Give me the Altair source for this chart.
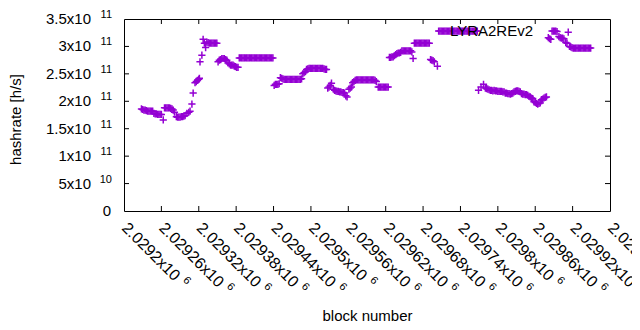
import altair as alt
import pandas as pd

# ---- data: block number and hashrate (in 1e9 h/s) ----
blocks = [
    2029228, 2029230, 2029232, 2029234, 2029236, 2029238, 2029240, 2029242, 2029244, 2029246,
    2029248, 2029250, 2029252, 2029254, 2029256, 2029258, 2029260,
    2029263,
    2029265, 2029267, 2029269, 2029271, 2029273, 2029275, 2029277,
    2029279, 2029281,
    2029284, 2029286, 2029288, 2029290, 2029292, 2029294, 2029296, 2029298,
    2029301, 2029304, 2029306,
    2029309, 2029311,
    2029314, 2029316, 2029318, 2029320, 2029321,
    2029322, 2029325, 2029327, 2029329, 2029331,
    2029333, 2029335, 2029337, 2029339, 2029341, 2029343, 2029345, 2029347, 2029349,
    2029351, 2029353, 2029355, 2029357, 2029359, 2029361, 2029363, 2029365,
    2029367, 2029369, 2029371, 2029373, 2029375, 2029377, 2029379, 2029381, 2029383,
    2029385, 2029387, 2029389, 2029391, 2029393, 2029395, 2029397, 2029399, 2029401, 2029403,
    2029405, 2029407, 2029409, 2029411, 2029413, 2029415, 2029417, 2029419, 2029421, 2029423,
    2029425, 2029427, 2029429, 2029431, 2029433, 2029435, 2029437, 2029439,
    2029441, 2029443, 2029445, 2029447, 2029449,
    2029451, 2029453, 2029455, 2029457, 2029459, 2029461, 2029463, 2029465, 2029467, 2029469,
    2029471, 2029473, 2029475, 2029477, 2029479, 2029481, 2029483, 2029485,
    2029487, 2029489, 2029491,
    2029493, 2029495, 2029497, 2029499, 2029501, 2029503, 2029505, 2029507, 2029509, 2029511,
    2029513, 2029515, 2029517, 2029519, 2029521, 2029523, 2029525,
    2029527, 2029529, 2029531, 2029533,
    2029536, 2029538, 2029540, 2029542, 2029544, 2029546, 2029548, 2029550, 2029552, 2029554,
    2029556, 2029558,
    2029561, 2029563, 2029565,
    2029567, 2029569, 2029571, 2029573, 2029575, 2029577, 2029579, 2029581, 2029583, 2029585,
    2029587, 2029589, 2029591, 2029593, 2029595, 2029597, 2029599, 2029601, 2029603, 2029605,
    2029608, 2029610, 2029612, 2029614, 2029616, 2029618, 2029620, 2029622, 2029624,
    2029626, 2029628, 2029630, 2029632, 2029634, 2029636,
    2029638, 2029640, 2029642, 2029644,
    2029646, 2029648, 2029650, 2029652, 2029654, 2029656, 2029658, 2029660, 2029662,
    2029664,
    2029666, 2029668, 2029670, 2029672, 2029674, 2029676, 2029678, 2029680, 2029682, 2029684,
    2029686, 2029688, 2029690,
    2029692, 2029694, 2029696, 2029698,
    2029703,
    2029705, 2029707, 2029709, 2029711, 2029713, 2029715, 2029717, 2029719, 2029721, 2029723,
    2029725, 2029727, 2029729, 2029731, 2029733, 2029735, 2029737, 2029739, 2029741, 2029743,
    2029745, 2029747, 2029749, 2029751, 2029753, 2029755, 2029757, 2029759, 2029761, 2029763,
    2029765, 2029767,
    2029769, 2029773, 2029777,
    2029780, 2029782, 2029784, 2029786, 2029788, 2029790, 2029792, 2029794, 2029796,
    2029798, 2029800, 2029802, 2029804, 2029806, 2029808, 2029810,
    2029812, 2029814, 2029816, 2029818, 2029820, 2029822, 2029824,
    2029826, 2029828, 2029830, 2029832, 2029834, 2029836,
    2029838, 2029840, 2029842, 2029844, 2029846, 2029848,
    2029850, 2029852, 2029854, 2029856,
    2029858, 2029860, 2029862, 2029864, 2029866, 2029868,
    2029870, 2029872, 2029874, 2029876, 2029878,
    2029881, 2029883, 2029885,
    2029887, 2029889, 2029891, 2029893, 2029895,
    2029898, 2029900, 2029902, 2029904, 2029906,
    2029909, 2029911, 2029913,
    2029915, 2029917, 2029919, 2029921, 2029923, 2029925, 2029927, 2029929, 2029931, 2029933,
    2029935, 2029937, 2029939, 2029941, 2029943, 2029945, 2029947, 2029949,
]
hashrate_gh = [
    186, 185, 184, 184, 183, 182, 182, 182, 182, 182,
    178, 177, 177, 176, 176, 176, 176,
    166,
    188, 188, 188, 188, 188, 187, 186,
    184, 180,
    172, 171, 171, 171, 172, 172, 173, 174,
    178, 180, 182,
    195, 215,
    234, 236, 238, 240, 242,
    272, 284, 313, 306, 298,
    308, 307, 306, 306, 306, 306, 306, 306, 306,
    272, 275, 276, 278, 278, 278, 276, 275,
    270, 268, 266, 266, 266, 264, 263, 262, 262,
    279, 279, 279, 279, 279, 279, 279, 279, 279, 279,
    279, 279, 279, 279, 279, 279, 279, 279, 279, 279,
    279, 279, 279, 279, 279, 279, 279, 279,
    229, 231, 231, 231, 232,
    243, 242, 241, 240, 240, 240, 240, 240, 240, 240,
    240, 240, 240, 240, 240, 240, 240, 241,
    250, 252, 254,
    258, 259, 260, 260, 260, 260, 260, 260, 260, 260,
    260, 260, 260, 260, 259, 258, 258,
    224, 226, 229, 233,
    222, 220, 219, 218, 218, 217, 217, 216, 216, 215,
    210, 208,
    222, 224, 226,
    234, 236, 238, 239, 239, 239, 239, 239, 239, 239,
    239, 239, 239, 239, 239, 239, 239, 239, 238, 236,
    226, 226, 226, 226, 226, 226, 226, 226, 226,
    280, 280, 281, 281, 283, 285,
    287, 288, 288, 289,
    292, 292, 292, 292, 292, 292, 292, 292, 290,
    278,
    306, 306, 306, 306, 306, 306, 306, 306, 306, 306,
    306, 306, 306,
    276, 275, 274, 272,
    264,
    328, 328, 328, 328, 328, 328, 328, 328, 328, 328,
    328, 328, 328, 328, 328, 328, 328, 328, 328, 328,
    328, 328, 328, 328, 328, 328, 328, 328, 328, 328,
    328, 328,
    220, 226, 231,
    224, 223, 222, 221, 220, 220, 219, 220, 219,
    219, 218, 218, 218, 218, 217, 217,
    215, 215, 214, 214, 213, 214, 215,
    217, 218, 219, 219, 218, 217,
    214, 213, 213, 212, 212, 211,
    209, 208, 206, 205,
    199, 198, 196, 195, 196, 197,
    203, 204, 206, 207, 208,
    316, 314, 313,
    328, 328, 328, 328, 327,
    318, 316, 315, 315, 314,
    307, 306, 326,
    300, 299, 298, 297, 297, 297, 297, 297, 297, 297,
    297, 297, 297, 297, 297, 297, 297, 297,
]

series_name = "LYRA2REv2"

x_tick_values = [2029200, 2029260, 2029320, 2029380, 2029440, 2029500, 2029560,
                 2029620, 2029680, 2029740, 2029800, 2029860, 2029920, 2029980]
x_tick_mant = ["2.0292x10", "2.02926x10", "2.02932x10", "2.02938x10", "2.02944x10",
               "2.0295x10", "2.02956x10", "2.02962x10", "2.02968x10", "2.02974x10",
               "2.0298x10", "2.02986x10", "2.02992x10", "2.02998x10"]
x_tick_exp = ["6"] * len(x_tick_values)

y_tick_values = [0, 5e10, 1e11, 1.5e11, 2e11, 2.5e11, 3e11, 3.5e11]
y_tick_mant = ["0", "5x10", "1x10", "1.5x10", "2x10", "2.5x10", "3x10", "3.5x10"]
y_tick_exp = ["", "10", "11", "11", "11", "11", "11", "11"]

# ---- tables ----
df = pd.DataFrame({"block": blocks, "hashrate": [v * 1e9 for v in hashrate_gh]})
xt = pd.DataFrame({"t": x_tick_values, "m": x_tick_mant, "e": x_tick_exp})
xt["short"] = xt["m"].str.len() <= 9
yt = pd.DataFrame({"v": y_tick_values, "m": y_tick_mant, "e": y_tick_exp})
leg = pd.DataFrame({"label": [series_name]})

FONT = "Liberation Sans"
FS = 15
FSX = 16
FSE = 11
W, H = 486, 192
COLOR = "#9400d3"

xscale = alt.Scale(domain=[2029200, 2029980], nice=False, zero=False)
yscale = alt.Scale(domain=[0, 3.5e11], nice=False, zero=False)

x_axis = alt.Axis(labels=False, ticks=False, domain=False, grid=False,
                  title="block number", titleFont=FONT, titleFontSize=FS,
                  titleFontWeight="normal", titleColor="black",
                  titleX=243, titleY=104, titleAlign="center", titleBaseline="middle")
y_axis = alt.Axis(labels=False, ticks=False, domain=False, grid=False,
                  title="hashrate [h/s]", titleFont=FONT, titleFontSize=FS,
                  titleFontWeight="normal", titleColor="black",
                  titleX=-109, titleY=100, titleAngle=270,
                  titleAlign="center", titleBaseline="middle")


def X(field):
    return alt.X(f"{field}:Q", scale=xscale, axis=x_axis)


def Y(field):
    return alt.Y(f"{field}:Q", scale=yscale, axis=y_axis)


points = alt.Chart(df).mark_point(
    shape="M-1,0H1M0,-1V1", filled=False, size=52, strokeWidth=1.5,
    color=COLOR, opacity=1
).encode(x=X("block"), y=Y("hashrate"))

tick_kw = dict(color="black", strokeWidth=1)
yt_inner = yt[(yt.v > 0) & (yt.v < 3.5e11)][["v"]]
ytick_l = alt.Chart(yt_inner).mark_rule(**tick_kw).encode(
    y=Y("v"), x=alt.value(0), x2=alt.value(5))
ytick_r = alt.Chart(yt_inner).mark_rule(**tick_kw).encode(
    y=Y("v"), x=alt.value(W - 5), x2=alt.value(W))
xt_inner = xt[(xt.t > 2029200) & (xt.t < 2029980)][["t"]]
xtick_b = alt.Chart(xt_inner).mark_rule(**tick_kw).encode(
    x=X("t"), y=alt.value(H - 5), y2=alt.value(H))
xtick_t = alt.Chart(xt_inner).mark_rule(**tick_kw).encode(
    x=X("t"), y=alt.value(0), y2=alt.value(5))

txt = dict(font=FONT, color="black")
ylab_m = alt.Chart(yt[yt.e != ""]).mark_text(
    align="right", baseline="middle", fontSize=FS, **txt).encode(
    y=Y("v"), x=alt.value(-33), text="m:N")
ylab_0 = alt.Chart(yt[yt.e == ""]).mark_text(
    align="right", baseline="middle", fontSize=FS, **txt).encode(
    y=Y("v"), x=alt.value(-13), text="m:N")
ylab_e = alt.Chart(yt[yt.e != ""]).mark_text(
    align="right", baseline="middle", fontSize=FSE, dy=-4, **txt).encode(
    y=Y("v"), x=alt.value(-12), text="e:N")

DX, DY = 10.6, 9.9
xlab_m = alt.Chart(xt[["t", "m"]]).mark_text(
    align="left", baseline="middle", angle=45, dx=DX, dy=DY, fontSize=FSX, **txt).encode(
    x=X("t"), y=alt.value(H), text="m:N")
xlab_es = alt.Chart(xt[xt.short][["t", "e"]]).mark_text(
    align="left", baseline="middle", angle=45, dx=DX + 80, dy=DY - 5, fontSize=FSE, **txt).encode(
    x=X("t"), y=alt.value(H), text="e:N")
xlab_el = alt.Chart(xt[~xt.short][["t", "e"]]).mark_text(
    align="left", baseline="middle", angle=45, dx=DX + 89, dy=DY - 5, fontSize=FSE, **txt).encode(
    x=X("t"), y=alt.value(H), text="e:N")

legend = alt.Chart(leg).mark_text(
    align="right", baseline="middle", fontSize=FS, **txt).encode(
    x=alt.value(409), y=alt.value(12), text="label:N")

chart = alt.layer(
    points, ytick_l, ytick_r, xtick_b, xtick_t,
    ylab_m, ylab_0, ylab_e, xlab_m, xlab_es, xlab_el, legend
).properties(
    width=W, height=H,
    padding={"left": 116, "top": 11, "right": 22, "bottom": 116},
    autosize=alt.AutoSizeParams(type="none"),
    background="white",
).configure_view(stroke="black", strokeWidth=1)

chart.save("out.html", embed_options={"renderer": "svg", "actions": False})
